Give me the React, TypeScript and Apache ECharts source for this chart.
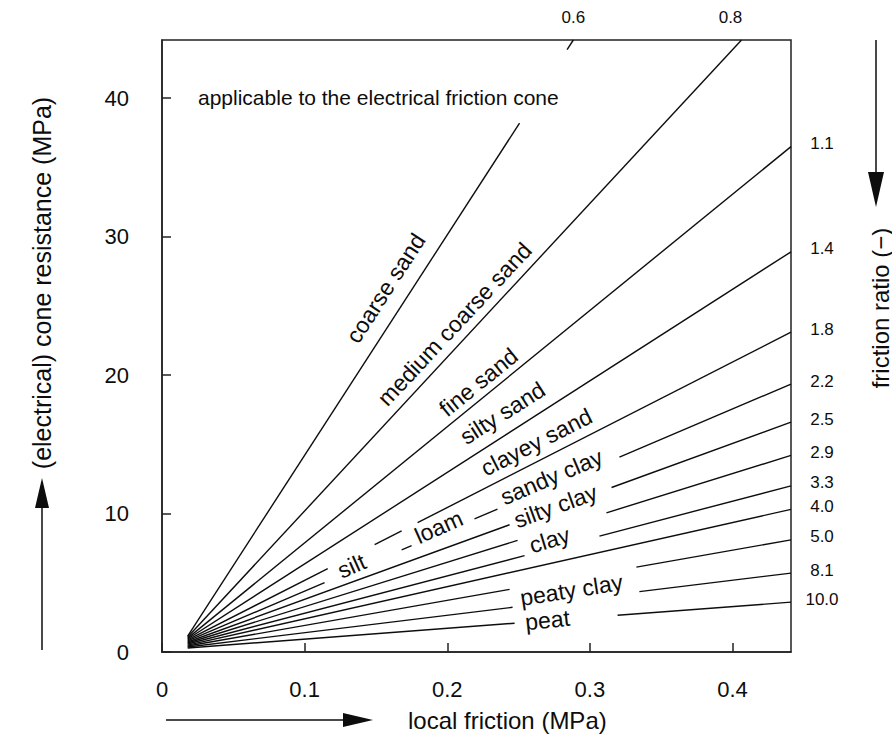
import React, { useEffect, useRef } from "react";
import * as echarts from "echarts";

const FONT = '"Liberation Sans", Arial, Helvetica, sans-serif';
const INK = "#0d0d0d";

// axis extents (local friction in MPa, cone resistance in MPa)
const xMax = 0.441;
const yMax = 44.2;

// friction-ratio lines (top to bottom)
const ratioLabels = ["0.6", "0.8", "1.1", "1.4", "1.8", "2.2", "2.5", "2.9", "3.3", "4.0", "5.0", "8.1", "10.0"];
const lineStartFs = [0.018, 0.018, 0.018, 0.018, 0.018, 0.018, 0.018, 0.018, 0.018, 0.018, 0.018, 0.018, 0.018];
const lineStartQc = [1.15, 1.08, 1.0, 0.94, 0.87, 0.8, 0.72, 0.65, 0.58, 0.5, 0.43, 0.36, 0.29];
const lineEndFs = [0.2884, 0.4063, 0.441, 0.441, 0.441, 0.441, 0.441, 0.441, 0.441, 0.441, 0.441, 0.441, 0.441];
const lineEndQc = [44.2, 44.2, 36.5, 28.9, 23.1, 19.35, 16.6, 14.2, 12.0, 10.3, 8.1, 5.7, 3.6];
// points where each line stops / resumes (gaps for labels)
const lineBreaks: number[][][] = [
  [[0.2507, 38.2], [0.284, 43.5]],
  [],
  [],
  [],
  [[0.1162, 6.03], [0.1491, 7.76], [0.168, 8.75], [0.1792, 9.34]],
  [[0.114, 5.01], [0.168, 7.38], [0.175, 7.68], [0.2191, 9.62], [0.2352, 10.32], [0.3207, 14.07]],
  [[0.2437, 9.19], [0.3152, 11.88]],
  [[0.2493, 8.06], [0.3116, 10.05]],
  [[0.2542, 6.96], [0.3067, 8.37]],
  [],
  [[0.2437, 4.52], [0.3326, 6.13]],
  [[0.2458, 3.23], [0.3347, 4.36]],
  [[0.2472, 2.08], [0.3194, 2.65]],
];

// soil type labels
const zoneNames = ["coarse sand", "medium coarse sand", "fine sand", "silty sand", "clayey sand", "sandy clay", "silty clay", "clay", "peaty clay", "peat", "silt", "loam"];
const zoneFs = [0.1568, 0.2051, 0.2219, 0.2387, 0.2626, 0.2731, 0.2759, 0.2717, 0.2871, 0.2703, 0.133, 0.194];
const zoneQc = [26.28, 23.68, 19.49, 17.26, 15.16, 12.64, 10.54, 8.09, 4.48, 2.31, 6.21, 9.03];
const zoneAngle = [57, 47, 39, 32.5, 27, 23, 20, 17, 9, 6, 24, 24];

export default function App() {
  const ref = useRef<HTMLDivElement>(null);

  useEffect(() => {
    document.body.style.margin = "0";
    if (!ref.current) return;
    const chart = echarts.init(ref.current, undefined, { renderer: "svg" });

    const segments: any[] = [];
    ratioLabels.forEach((_, i) => {
      const pts = [[lineStartFs[i], lineStartQc[i]], ...lineBreaks[i], [lineEndFs[i], lineEndQc[i]]];
      for (let k = 0; k + 1 < pts.length; k += 2) {
        segments.push({ coords: [pts[k], pts[k + 1]] });
      }
    });

    const ratioData = ratioLabels.map((name, i) => {
      let offset = [31, -3];
      if (i === 0) offset = [0, -23];
      if (i === 1) offset = [-11, -23];
      return {
        name,
        value: [lineEndFs[i], lineEndQc[i]],
        label: { offset },
      };
    });

    const zoneData = zoneNames.map((name, i) => ({
      name,
      value: [zoneFs[i], zoneQc[i]],
      label: { rotate: zoneAngle[i] },
    }));

    const labelBase = {
      show: true,
      position: "inside",
      formatter: "{b}",
      color: INK,
      opacity: 1,
      fontFamily: FONT,
      align: "center",
      verticalAlign: "middle",
      textBorderWidth: 0,
      textBorderColor: "transparent",
    };

    const option: any = {
      animation: false,
      backgroundColor: "#ffffff",
      textStyle: { fontFamily: FONT },
      grid: {
        left: 162,
        right: 101,
        top: 40,
        bottom: 87,
        show: true,
        borderColor: "#222",
        borderWidth: 1.5,
        backgroundColor: "transparent",
      },
      xAxis: {
        type: "value",
        min: 0,
        max: xMax,
        interval: 0.1,
        axisLine: { show: true, onZero: false, lineStyle: { color: "#222", width: 1.5 } },
        axisTick: { show: true, inside: true, length: 9, lineStyle: { color: "#222", width: 1.5 } },
        splitLine: { show: false },
        axisLabel: {
          fontSize: 22,
          color: INK,
          fontFamily: FONT,
          margin: 26,
          showMaxLabel: false,
          formatter: (v: number) => (v === 0 ? "0" : String(+v.toFixed(1))),
        },
      },
      yAxis: {
        type: "value",
        min: 0,
        max: yMax,
        interval: 10,
        axisLine: { show: true, onZero: false, lineStyle: { color: "#222", width: 1.5 } },
        axisTick: { show: true, inside: true, length: 9, lineStyle: { color: "#222", width: 1.5 } },
        splitLine: { show: false },
        axisLabel: {
          fontSize: 22,
          color: INK,
          fontFamily: FONT,
          margin: 33,
          showMaxLabel: false,
        },
      },
      series: [
        {
          type: "lines",
          coordinateSystem: "cartesian2d",
          silent: true,
          lineStyle: { color: INK, width: 1.4, opacity: 1, curveness: 0 },
          data: segments,
        },
        {
          type: "scatter",
          silent: true,
          symbolSize: 1,
          itemStyle: { color: "rgba(255,255,255,0)" },
          clip: false,
          label: { ...labelBase, fontSize: 17 },
          data: ratioData,
        },
        {
          type: "scatter",
          silent: true,
          symbolSize: 1,
          itemStyle: { color: "rgba(255,255,255,0)" },
          clip: false,
          label: { ...labelBase, fontSize: 23 },
          data: zoneData,
        },
      ],
      graphic: [
        {
          type: "text",
          x: 198,
          y: 97,
          style: {
            text: "applicable to the electrical friction cone",
            font: `21px ${FONT}`,
            fill: INK,
            textAlign: "left",
            textVerticalAlign: "middle",
          },
        },
        {
          type: "text",
          x: 42,
          y: 283,
          rotation: Math.PI / 2,
          style: {
            text: "(electrical) cone resistance (MPa)",
            font: `25px ${FONT}`,
            fill: INK,
            textAlign: "center",
            textVerticalAlign: "middle",
          },
        },
        { type: "line", shape: { x1: 42, y1: 650, x2: 42, y2: 505 }, style: { stroke: INK, lineWidth: 1.5 } },
        { type: "polygon", shape: { points: [[35, 508], [49, 508], [42, 478]] }, style: { fill: INK } },
        {
          type: "text",
          x: 408,
          y: 720,
          style: {
            text: "local friction (MPa)",
            font: `24px ${FONT}`,
            fill: INK,
            textAlign: "left",
            textVerticalAlign: "middle",
          },
        },
        { type: "line", shape: { x1: 166, y1: 720, x2: 346, y2: 720 }, style: { stroke: INK, lineWidth: 1.5 } },
        { type: "polygon", shape: { points: [[343, 713], [343, 727], [373, 720]] }, style: { fill: INK } },
        {
          type: "text",
          x: 880,
          y: 308,
          rotation: Math.PI / 2,
          style: {
            text: "friction ratio (\u2212)",
            font: `24px ${FONT}`,
            fill: INK,
            textAlign: "center",
            textVerticalAlign: "middle",
          },
        },
        { type: "line", shape: { x1: 876, y1: 40, x2: 876, y2: 176 }, style: { stroke: INK, lineWidth: 1.5 } },
        { type: "polygon", shape: { points: [[868, 172], [884, 172], [876, 207]] }, style: { fill: INK } },
      ],
    };

    chart.setOption(option);
    return () => chart.dispose();
  }, []);

  return <div ref={ref} style={{ width: 892, height: 739 }} />;
}
